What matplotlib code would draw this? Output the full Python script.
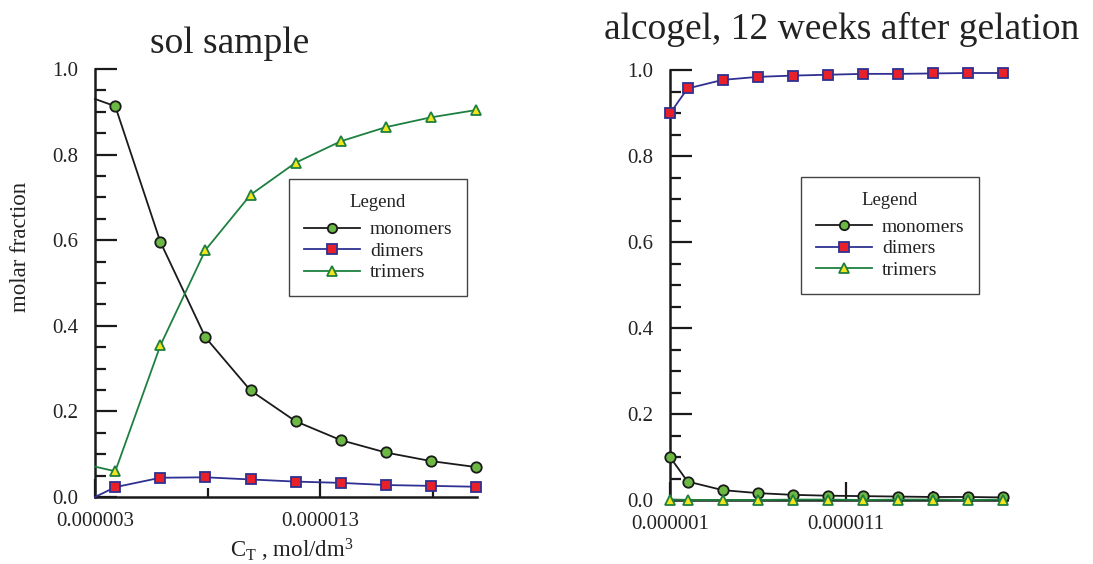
import matplotlib
matplotlib.use("Agg")
import matplotlib.pyplot as plt
from matplotlib.ticker import FixedLocator, FormatStrFormatter, MultipleLocator

plt.rcParams['font.family'] = ['Liberation Serif', 'DejaVu Serif']
plt.rcParams['mathtext.fontset'] = 'custom'
plt.rcParams['mathtext.rm'] = 'Liberation Serif'
plt.rcParams['mathtext.it'] = 'Liberation Serif:italic'

# sol sample (first point sits on the y axis, drawn without marker)
sol_c = [3.1e-6, 4e-6, 6e-6, 8e-6, 10e-6, 12e-6, 14e-6, 16e-6, 18e-6, 20e-6]
sol_mono = [0.930, 0.913, 0.596, 0.373, 0.249, 0.177, 0.133, 0.104, 0.084, 0.070]
sol_di = [0.000, 0.023, 0.045, 0.046, 0.041, 0.036, 0.033, 0.028, 0.026, 0.024]
sol_tri = [0.071, 0.060, 0.354, 0.577, 0.706, 0.781, 0.831, 0.864, 0.887, 0.904]

# alcogel, 12 weeks after gelation
gel_c = [1e-6, 2e-6, 4e-6, 6e-6, 8e-6, 10e-6, 12e-6, 14e-6, 16e-6, 18e-6, 20e-6]
gel_mono = [0.100, 0.043, 0.023, 0.016, 0.012, 0.010, 0.009, 0.008, 0.007, 0.007, 0.006]
gel_di = [0.899, 0.957, 0.977, 0.984, 0.987, 0.989, 0.991, 0.991, 0.992, 0.993, 0.993]
gel_tri = [0.001, 0.000, 0.000, 0.000, 0.001, 0.001, 0.000, 0.001, 0.001, 0.000, 0.001]

labels = ['monomers', 'dimers', 'trimers']
styles = [
    dict(color='#1a1a1a', marker='o', mfc='#6cb844', mec='#1a1a1a'),
    dict(color='#2e3192', marker='s', mfc='#e8202a', mec='#2e3192'),
    dict(color='#1e8040', marker='^', mfc='#f2e51c', mec='#1e8040'),
]

W, H = 1093, 564
fig = plt.figure(figsize=(W / 100, H / 100), dpi=100)


def pane(px_left, px_right, px_top, px_bottom):
    return fig.add_axes([px_left / W, 1 - px_bottom / H,
                         (px_right - px_left) / W, (px_bottom - px_top) / H])


def style_axes(ax, xmajor, xminor):
    for s in ('top', 'right'):
        ax.spines[s].set_visible(False)
    for s in ('left', 'bottom'):
        ax.spines[s].set_linewidth(1.8)
        ax.spines[s].set_color('#1a1a1a')
    ax.set_ylim(0, 1.0)
    ax.yaxis.set_major_locator(MultipleLocator(0.2))
    ax.yaxis.set_minor_locator(MultipleLocator(0.05))
    ax.yaxis.set_major_formatter(FormatStrFormatter('%.1f'))
    ax.xaxis.set_major_locator(FixedLocator(xmajor))
    ax.xaxis.set_minor_locator(FixedLocator(xminor))
    ax.xaxis.set_major_formatter(FormatStrFormatter('%.6f'))
    ax.tick_params(axis='y', which='major', direction='in', length=16, width=1.6,
                   pad=12, labelsize=15, color='#1a1a1a', labelcolor='#222')
    ax.tick_params(axis='y', which='minor', direction='in', length=8, width=1.6,
                   color='#1a1a1a')
    ax.tick_params(axis='x', which='major', direction='in', length=13, width=1.6,
                   pad=11, labelsize=15, color='#1a1a1a', labelcolor='#222')
    ax.tick_params(axis='x', which='minor', direction='in', length=6.5, width=1.6,
                   color='#1a1a1a')
    ax.patch.set_alpha(0)


def draw(ax, x, series, skip_first):
    for y, lab, st in zip(series, labels, styles):
        ax.plot(x, y, lw=1.3, ms=7.5, mew=1.3, label=lab, clip_on=False, zorder=3,
                markevery=slice(1 if skip_first else 0, None), **st)


def add_legend(ax, anchor):
    leg = ax.legend(title='Legend', loc='upper left', bbox_to_anchor=anchor,
                    borderaxespad=0, fontsize=14, title_fontsize=13.5,
                    frameon=True, fancybox=False, framealpha=1,
                    edgecolor='#444444', handlelength=2.9, handletextpad=0.5,
                    labelspacing=0.2, borderpad=0.75, markerscale=0.9)
    leg.get_frame().set_linewidth(1.0)
    leg._legend_box.sep = 7  # gap between title and entries
    leg.get_title().set_color('#222')
    for t in leg.get_texts():
        t.set_color('#222')
    return leg


# left panel
ax1 = pane(95, 477, 69, 497)
draw(ax1, sol_c, [sol_mono, sol_di, sol_tri], True)
ax1.set_xlim(3.1e-6, 20.05e-6)
style_axes(ax1, [3.1e-6, 13.1e-6], [8.1e-6, 18.1e-6])
add_legend(ax1, (0.508, 0.742))

# right panel
ax2 = pane(670, 1007, 70, 500)
draw(ax2, gel_c, [gel_mono, gel_di, gel_tri], False)
ax2.set_xlim(1e-6, 20.2e-6)
style_axes(ax2, [1e-6, 11e-6], [6e-6, 16e-6])
add_legend(ax2, (0.389, 0.751))

fig.text(230 / W, 1 - 53 / H, 'sol sample', ha='center', va='baseline',
         fontsize=27, color='#222')
fig.text(842 / W, 1 - 39 / H, 'alcogel, 12 weeks after gelation', ha='center',
         va='baseline', fontsize=27, color='#222')
fig.text(21 / W, 1 - 247 / H, 'molar fraction', rotation=90, ha='center',
         va='center', fontsize=16.5, color='#222')
fig.text(292 / W, 1 - 557 / H, r'C$_\mathrm{T}$ , mol/dm$^\mathrm{3}$', ha='center',
         va='baseline', fontsize=16.5, color='#222')

fig.savefig('out.png', dpi=100)
